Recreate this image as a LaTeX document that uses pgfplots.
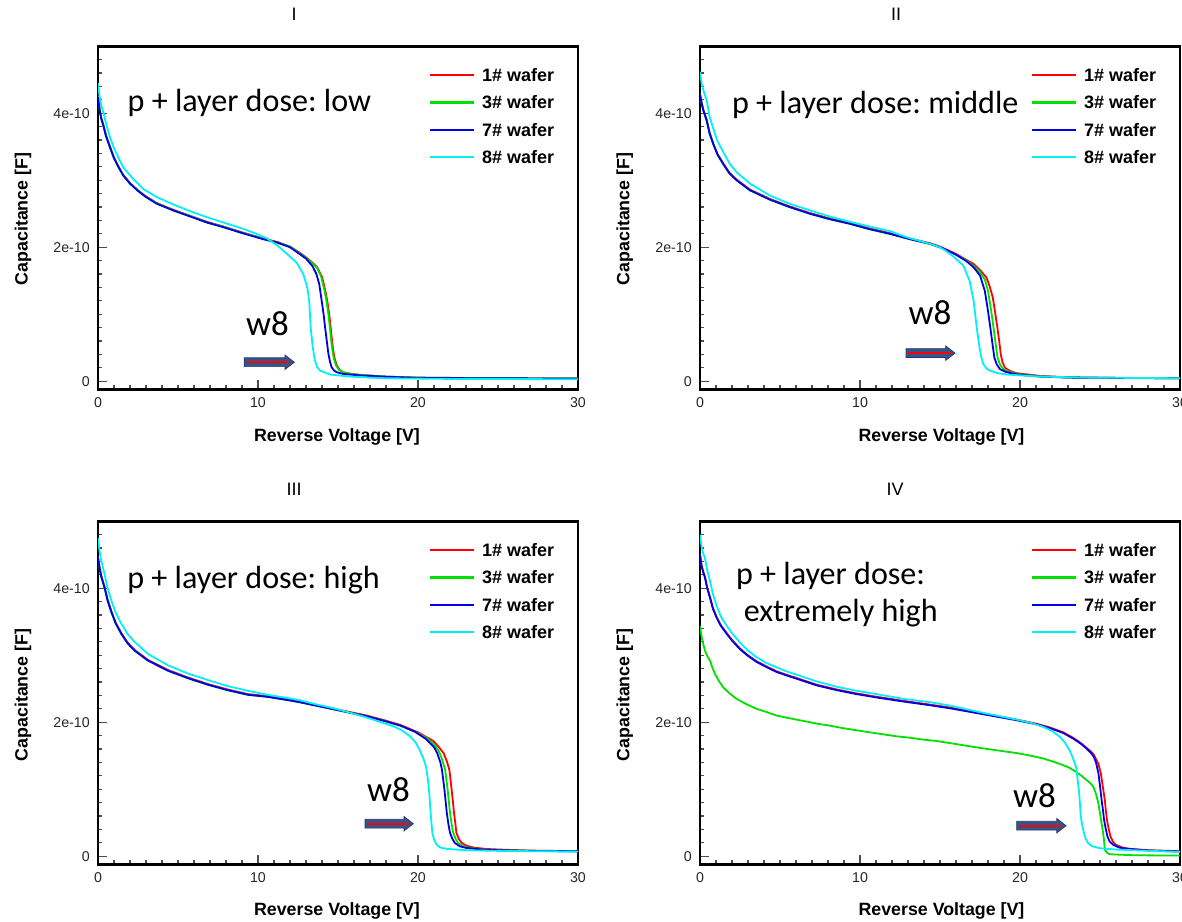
\documentclass[border=0pt]{standalone}
\usepackage{fontspec}
\setmainfont{Liberation Sans}
\newfontfamily\calibri{Carlito}
\usepackage{pgfplots}
\usepackage{pgfplotstable}
\pgfplotsset{compat=1.18}

\definecolor{cvred}{RGB}{255,0,0}
\definecolor{cvgreen}{RGB}{0,225,0}
\definecolor{cvblue}{RGB}{0,0,230}
\definecolor{cvcyan}{RGB}{0,240,245}
\definecolor{arrowblue}{RGB}{52,84,140}
\definecolor{arrowedge}{RGB}{36,58,104}

% C-V data: V = reverse voltage [V], C = capacitance in units of 1e-10 F
% ---------- I : low dose ----------
\pgfplotstableread{
V C
0.00 4.26
0.10 4.07
0.20 3.94
0.33 3.83
0.50 3.67
0.75 3.50
1.00 3.34
1.25 3.22
1.58 3.08
2.00 2.96
2.50 2.85
3.00 2.76
3.67 2.66
4.70 2.56
5.75 2.47
6.80 2.38
7.83 2.31
8.90 2.23
10.33 2.13
11.20 2.08
12.00 2.01
12.60 1.92
13.00 1.85
13.40 1.77
13.70 1.70
14.00 1.56
14.20 1.36
14.33 1.20
14.45 1.00
14.54 0.81
14.62 0.62
14.70 0.46
14.80 0.33
14.92 0.24
15.10 0.17
15.33 0.135
15.70 0.115
16.17 0.10
17.00 0.085
17.80 0.07
20.00 0.055
24.00 0.045
30.00 0.04
}\IRed
\pgfplotstableread{
V C
0.00 4.25
0.10 4.06
0.20 3.93
0.33 3.83
0.50 3.66
0.75 3.50
1.00 3.33
1.25 3.21
1.58 3.08
2.00 2.95
2.50 2.85
3.00 2.75
3.67 2.66
4.70 2.55
5.75 2.47
6.80 2.37
7.83 2.31
8.90 2.22
10.33 2.13
11.20 2.07
12.00 2.01
12.60 1.91
13.00 1.84
13.40 1.76
13.70 1.69
13.95 1.56
14.15 1.36
14.28 1.20
14.40 1.00
14.49 0.81
14.57 0.62
14.65 0.46
14.75 0.33
14.87 0.24
15.05 0.17
15.30 0.135
15.70 0.115
16.17 0.10
17.00 0.085
17.80 0.07
20.00 0.055
24.00 0.045
30.00 0.04
}\IGreen
\pgfplotstableread{
V C
0.00 4.24
0.10 4.05
0.20 3.92
0.33 3.82
0.50 3.66
0.75 3.49
1.00 3.33
1.25 3.21
1.58 3.07
2.00 2.95
2.50 2.84
3.00 2.75
3.67 2.65
4.70 2.55
5.75 2.46
6.80 2.37
7.83 2.30
8.90 2.22
10.33 2.12
11.20 2.07
12.00 2.00
12.60 1.90
13.00 1.83
13.40 1.72
13.65 1.60
13.83 1.45
13.98 1.20
14.10 1.00
14.19 0.81
14.30 0.60
14.40 0.41
14.50 0.29
14.60 0.21
14.75 0.16
14.92 0.135
15.30 0.11
15.75 0.10
16.50 0.085
17.80 0.07
19.90 0.05
24.00 0.045
30.00 0.04
}\IBlue
\pgfplotstableread{
V C
0.00 4.45
0.10 4.25
0.20 4.12
0.33 4.02
0.50 3.85
0.75 3.64
1.00 3.48
1.17 3.39
1.58 3.19
2.20 3.02
2.83 2.87
3.67 2.75
4.70 2.64
5.75 2.54
6.80 2.45
7.83 2.37
8.90 2.29
9.80 2.21
10.50 2.14
11.20 2.03
11.58 1.95
12.00 1.86
12.42 1.77
12.83 1.60
13.08 1.40
13.20 1.20
13.29 0.81
13.42 0.51
13.56 0.31
13.70 0.21
13.875 0.16
14.50 0.10
15.75 0.07
17.80 0.045
22.00 0.035
30.00 0.03
}\ICyan

% ---------- II : middle dose ----------
\pgfplotstableread{
V C
0.00 4.29
0.10 4.16
0.20 4.06
0.42 3.90
0.60 3.71
0.83 3.55
1.10 3.39
1.46 3.25
1.85 3.11
2.29 3.01
3.13 2.86
4.38 2.72
5.60 2.61
6.88 2.51
8.10 2.43
9.38 2.36
10.60 2.28
11.88 2.21
13.13 2.13
14.38 2.06
15.00 2.01
16.00 1.90
17.10 1.75
17.50 1.66
17.90 1.55
18.10 1.42
18.30 1.25
18.45 1.02
18.58 0.81
18.70 0.60
18.80 0.40
18.90 0.29
19.06 0.20
19.40 0.15
19.80 0.12
20.50 0.10
21.25 0.08
23.00 0.06
26.00 0.05
30.00 0.045
}\IIRed
\pgfplotstableread{
V C
0.00 4.28
0.10 4.15
0.20 4.05
0.42 3.89
0.60 3.70
0.83 3.54
1.10 3.38
1.46 3.24
1.85 3.10
2.29 3.00
3.13 2.85
4.38 2.71
5.60 2.60
6.88 2.50
8.10 2.42
9.38 2.35
10.60 2.27
11.88 2.20
13.13 2.12
14.38 2.05
15.00 2.00
16.00 1.89
16.67 1.80
17.10 1.72
17.50 1.63
17.80 1.52
18.00 1.35
18.20 1.05
18.30 0.88
18.40 0.70
18.50 0.52
18.60 0.35
18.75 0.25
18.95 0.18
19.30 0.14
19.80 0.11
20.40 0.09
21.25 0.075
23.00 0.055
26.00 0.05
30.00 0.045
}\IIGreen
\pgfplotstableread{
V C
0.00 4.28
0.10 4.15
0.20 4.05
0.42 3.89
0.60 3.70
0.83 3.54
1.10 3.38
1.46 3.24
1.85 3.10
2.29 3.00
3.13 2.85
4.38 2.71
5.60 2.60
6.88 2.50
8.10 2.42
9.38 2.35
10.60 2.27
11.88 2.20
13.13 2.12
14.38 2.05
15.00 2.00
15.40 1.96
16.00 1.89
16.67 1.79
17.10 1.70
17.50 1.58
17.80 1.35
18.00 1.05
18.10 0.88
18.20 0.70
18.30 0.52
18.40 0.35
18.55 0.25
18.75 0.18
19.10 0.14
19.60 0.11
20.30 0.09
21.25 0.07
23.00 0.055
26.00 0.05
30.00 0.045
}\IIBlue
\pgfplotstableread{
V C
0.00 4.62
0.10 4.45
0.20 4.35
0.42 4.19
0.60 3.95
0.83 3.77
1.10 3.58
1.46 3.42
1.85 3.25
2.29 3.12
3.13 2.95
4.38 2.77
5.60 2.65
6.88 2.55
8.10 2.46
9.38 2.38
10.60 2.31
11.88 2.24
12.90 2.15
13.50 2.11
14.38 2.05
15.00 2.00
15.40 1.94
15.80 1.87
16.45 1.73
16.85 1.50
17.10 1.20
17.20 1.00
17.29 0.81
17.40 0.62
17.50 0.46
17.60 0.34
17.70 0.26
17.90 0.19
18.10 0.16
18.60 0.12
19.20 0.10
21.25 0.07
24.00 0.055
30.00 0.045
}\IICyan

% ---------- III : high dose ----------
\pgfplotstableread{
V C
0.00 4.46
0.10 4.31
0.20 4.19
0.42 4.01
0.60 3.83
0.83 3.66
1.10 3.49
1.46 3.33
1.85 3.19
2.29 3.08
3.13 2.93
4.38 2.78
5.60 2.67
6.88 2.57
8.10 2.49
9.38 2.42
10.60 2.39
11.90 2.34
12.60 2.31
14.00 2.24
15.40 2.17
16.80 2.10
17.90 2.03
18.90 1.96
20.00 1.85
20.96 1.72
21.30 1.63
21.60 1.54
21.80 1.42
21.96 1.29
22.03 1.15
22.10 1.00
22.18 0.82
22.25 0.65
22.33 0.50
22.40 0.35
22.55 0.26
22.73 0.20
23.00 0.16
23.46 0.13
24.20 0.11
25.10 0.10
27.00 0.085
30.00 0.075
}\IIIRed
\pgfplotstableread{
V C
0.00 4.45
0.10 4.30
0.20 4.18
0.42 4.00
0.60 3.82
0.83 3.65
1.10 3.48
1.46 3.32
1.85 3.18
2.29 3.07
3.13 2.92
4.38 2.77
5.60 2.66
6.88 2.56
8.10 2.48
9.38 2.41
10.60 2.38
11.90 2.33
12.60 2.30
14.00 2.23
15.40 2.16
16.80 2.09
17.90 2.02
18.90 1.95
19.80 1.86
20.50 1.77
21.00 1.67
21.30 1.57
21.50 1.45
21.70 1.29
21.85 1.00
22.00 0.65
22.10 0.48
22.20 0.35
22.35 0.26
22.50 0.20
22.80 0.15
23.20 0.125
24.00 0.10
25.10 0.09
27.00 0.08
30.00 0.075
}\IIIGreen
\pgfplotstableread{
V C
0.00 4.45
0.10 4.30
0.20 4.18
0.42 4.00
0.60 3.82
0.83 3.65
1.10 3.48
1.46 3.32
1.85 3.18
2.29 3.07
3.13 2.92
4.38 2.77
5.60 2.66
6.88 2.56
8.10 2.48
9.38 2.41
10.60 2.38
11.90 2.33
12.60 2.30
14.00 2.23
15.40 2.16
16.80 2.09
17.90 2.02
18.90 1.95
19.80 1.86
20.50 1.75
21.00 1.63
21.20 1.54
21.40 1.40
21.50 1.29
21.65 1.00
21.80 0.65
21.90 0.48
22.00 0.35
22.15 0.26
22.30 0.20
22.60 0.15
23.00 0.125
24.00 0.10
25.10 0.09
27.00 0.08
30.00 0.075
}\IIIBlue
\pgfplotstableread{
V C
0.00 4.75
0.10 4.55
0.20 4.42
0.42 4.20
0.60 4.00
0.83 3.82
1.10 3.64
1.46 3.47
1.85 3.32
2.29 3.20
3.13 3.02
4.38 2.85
5.60 2.73
6.88 2.63
8.10 2.54
9.38 2.47
10.60 2.41
11.90 2.36
12.60 2.33
13.60 2.27
14.70 2.21
15.80 2.14
16.80 2.07
17.70 2.00
18.46 1.94
19.00 1.88
19.50 1.79
19.85 1.70
20.10 1.59
20.35 1.45
20.50 1.34
20.60 1.18
20.67 1.04
20.73 0.85
20.79 0.65
20.84 0.50
20.90 0.35
21.00 0.25
21.17 0.17
21.40 0.13
21.80 0.11
23.00 0.09
25.10 0.08
30.00 0.07
}\IIICyan

% ---------- IV : extremely high dose ----------
\pgfplotstableread{
V C
0.00 4.51
0.10 4.34
0.20 4.25
0.31 4.17
0.45 4.01
0.625 3.87
0.80 3.71
1.04 3.57
1.30 3.45
1.67 3.33
2.00 3.23
2.50 3.10
3.00 3.00
3.54 2.91
4.10 2.84
4.79 2.76
5.40 2.71
6.04 2.66
7.30 2.56
8.54 2.49
9.79 2.43
11.04 2.38
12.70 2.32
14.20 2.27
15.60 2.22
17.70 2.13
19.80 2.04
21.00 1.98
21.90 1.92
22.70 1.85
23.30 1.77
23.80 1.69
24.15 1.62
24.40 1.57
24.60 1.52
24.90 1.38
25.05 1.24
25.20 1.00
25.30 0.84
25.38 0.65
25.45 0.52
25.55 0.40
25.65 0.30
25.80 0.22
26.00 0.17
26.40 0.13
26.90 0.11
28.10 0.09
30.00 0.075
}\IVRed
\pgfplotstableread{
V C
0.00 3.44
0.10 3.28
0.20 3.17
0.31 3.07
0.45 2.99
0.625 2.92
0.80 2.80
0.94 2.72
1.20 2.61
1.46 2.52
1.85 2.43
2.29 2.35
2.90 2.27
3.54 2.20
4.20 2.15
4.79 2.10
5.60 2.06
6.46 2.02
7.30 1.98
8.10 1.95
9.00 1.91
9.80 1.88
10.60 1.85
11.46 1.82
12.30 1.79
13.10 1.77
14.00 1.74
14.80 1.72
15.60 1.69
17.70 1.61
19.80 1.54
20.70 1.50
21.46 1.46
22.10 1.41
22.70 1.36
23.10 1.32
23.50 1.26
23.85 1.20
24.15 1.14
24.40 1.09
24.60 1.03
24.75 0.93
24.90 0.79
25.00 0.64
25.10 0.49
25.18 0.37
25.25 0.25
25.28 0.15
25.32 0.09
25.45 0.05
25.60 0.03
27.10 0.015
30.00 0.01
}\IVGreen
\pgfplotstableread{
V C
0.00 4.50
0.10 4.33
0.20 4.24
0.31 4.16
0.45 4.00
0.625 3.86
0.80 3.70
1.04 3.56
1.30 3.44
1.67 3.32
2.00 3.22
2.50 3.09
3.00 2.99
3.54 2.90
4.10 2.83
4.79 2.75
5.40 2.70
6.04 2.65
7.30 2.55
8.54 2.48
9.79 2.42
11.04 2.37
12.70 2.31
14.20 2.26
15.60 2.21
17.70 2.12
19.80 2.03
21.00 1.97
21.90 1.91
22.70 1.84
23.30 1.76
23.80 1.68
24.15 1.61
24.40 1.55
24.60 1.49
24.75 1.40
24.90 1.24
25.00 1.05
25.10 0.84
25.18 0.70
25.25 0.55
25.35 0.42
25.46 0.30
25.60 0.22
25.83 0.17
26.20 0.13
26.70 0.11
28.10 0.085
30.00 0.07
}\IVBlue
\pgfplotstableread{
V C
0.00 4.80
0.10 4.62
0.20 4.52
0.31 4.45
0.45 4.27
0.625 4.11
0.80 3.92
1.04 3.74
1.30 3.58
1.67 3.44
2.00 3.33
2.50 3.19
3.00 3.07
3.54 2.97
4.10 2.89
4.79 2.82
5.40 2.76
6.04 2.71
7.30 2.61
8.54 2.53
9.79 2.47
11.04 2.42
12.70 2.35
14.40 2.30
15.60 2.25
17.70 2.14
19.80 2.04
20.70 1.99
21.46 1.93
22.00 1.87
22.50 1.78
22.80 1.70
23.10 1.58
23.30 1.47
23.50 1.34
23.60 1.15
23.70 0.94
23.75 0.77
23.80 0.59
23.90 0.45
24.00 0.35
24.10 0.26
24.25 0.20
24.50 0.15
25.00 0.12
26.00 0.10
27.08 0.09
30.00 0.065
}\IVCyan

\pgfplotsset{
  cvpanel/.style={
    scale only axis, width=240pt, height=171.5pt,
    anchor=south west,
    xmin=0, xmax=30, ymin=-0.12, ymax=5.0,
    xtick={0,10,20,30}, xticklabels={0,10,20,30},
    minor xtick={1,...,29},
    ytick={0,2,4}, yticklabels={0,2e-10,4e-10},
    minor ytick={0.2,0.4,...,4.8},
    tick align=inside, tick pos=left,
    major tick length=4.5pt, minor tick length=2pt,
    tick style={black!70, line width=0.6pt},
    axis line style={line width=1.3pt},
    tick label style={font=\fontsize{7.1}{8}\selectfont, text=black!85},
    xticklabel style={yshift=-0.6pt},
    yticklabel style={xshift=-0.6pt},
    every axis plot/.append style={line width=0.9pt, no marks},
    legend style={draw=none, fill=none, at={(0.69,0.935)}, anchor=north west,
      inner sep=0pt, outer sep=0pt, row sep=7.2pt, column sep=3.65pt,
      font=\fontsize{9}{10}\selectfont\bfseries,
      nodes={inner sep=0pt, text height=6.5pt, text depth=0pt}},
    legend cell align=left,
    legend image code/.code={\draw[#1, line width=1.1pt] (0pt,0pt) -- (21.7pt,0pt);},
  },
}

% block arrow pointing at the shifted 8# curve: start, tip, height
\newcommand\wArrow[3]{%
  \filldraw[fill=arrowblue, draw=arrowedge, line width=0.35pt]
    ([yshift=-2.2pt]axis cs:#1,#3) -- ([xshift=-4.65pt,yshift=-2.2pt]axis cs:#2,#3)
    -- ([xshift=-4.65pt,yshift=-3.6pt]axis cs:#2,#3) -- (axis cs:#2,#3)
    -- ([xshift=-4.65pt,yshift=3.6pt]axis cs:#2,#3) -- ([xshift=-4.65pt,yshift=2.2pt]axis cs:#2,#3)
    -- ([yshift=2.2pt]axis cs:#1,#3) -- cycle;
  \draw[cvred, line width=1.15pt] ([xshift=1.2pt]axis cs:#1,#3) -- ([xshift=-2.2pt]axis cs:#2,#3);
}
\newcommand\doseFont{\calibri\fontsize{16.05}{19}\selectfont\frenchspacing}
\newcommand\weFont{\calibri\fontsize{17.5}{20}\selectfont}
\tikzset{dose/.style={anchor=base west, inner sep=0pt, font=\doseFont}}

\begin{document}
\begin{tikzpicture}[x=1pt,y=1pt]
\path[use as bounding box] (0,0) rectangle (591,460.5);

% ---------------- I ----------------
\begin{axis}[cvpanel, at={(49pt,265.85pt)}]
\addplot[cvred] table[x=V,y=C] {\IRed};
\addplot[cvgreen] table[x=V,y=C] {\IGreen};
\addplot[cvblue] table[x=V,y=C] {\IBlue};
\addplot[cvcyan] table[x=V,y=C] {\ICyan};
\legend{1\# wafer, 3\# wafer, 7\# wafer, 8\# wafer}
\node[dose] at (axis cs:1.83,4.025) {p + layer dose: low};
\node[font=\weFont] at (axis cs:10.6,0.86) {w8};
\wArrow{9.14}{12.27}{0.284}
\end{axis}

% ---------------- II ----------------
\begin{axis}[cvpanel, at={(350pt,265.85pt)}]
\addplot[cvred] table[x=V,y=C] {\IIRed};
\addplot[cvgreen] table[x=V,y=C] {\IIGreen};
\addplot[cvblue] table[x=V,y=C] {\IIBlue};
\addplot[cvcyan] table[x=V,y=C] {\IICyan};
\legend{1\# wafer, 3\# wafer, 7\# wafer, 8\# wafer}
\node[dose] at (axis cs:1.98,4.0) {p + layer dose: middle};
\node[font=\weFont] at (axis cs:14.375,1.03) {w8};
\wArrow{12.875}{15.94}{0.42}
\end{axis}

% ---------------- III ----------------
\begin{axis}[cvpanel, at={(49pt,28.35pt)}]
\addplot[cvred] table[x=V,y=C] {\IIIRed};
\addplot[cvgreen] table[x=V,y=C] {\IIIGreen};
\addplot[cvblue] table[x=V,y=C] {\IIIBlue};
\addplot[cvcyan] table[x=V,y=C] {\IIICyan};
\legend{1\# wafer, 3\# wafer, 7\# wafer, 8\# wafer}
\node[dose] at (axis cs:1.81,4.0) {p + layer dose: high};
\node[font=\weFont] at (axis cs:18.15,1.0) {w8};
\wArrow{16.69}{19.71}{0.486}
\end{axis}

% ---------------- IV ----------------
\begin{axis}[cvpanel, at={(350pt,28.35pt)}]
\addplot[cvred] table[x=V,y=C] {\IVRed};
\addplot[cvgreen] table[x=V,y=C] {\IVGreen};
\addplot[cvblue] table[x=V,y=C] {\IVBlue};
\addplot[cvcyan] table[x=V,y=C] {\IVCyan};
\legend{1\# wafer, 3\# wafer, 7\# wafer, 8\# wafer}
\node[dose] at (axis cs:2.23,4.06) {p + layer dose:};
\node[dose] at (axis cs:2.71,3.51) {extremely high};
\node[font=\weFont] at (axis cs:20.9,0.9) {w8};
\wArrow{19.79}{22.88}{0.456}
\end{axis}

% panel titles and axis titles
\begin{scope}[every node/.style={font=\fontsize{9}{10}\selectfont}]
\node at (147,453.5) {I};
\node at (448,453.5) {II};
\node at (147,216) {III};
\node at (447.5,216) {IV};
\end{scope}
\begin{scope}[every node/.style={font=\fontsize{8.9}{10}\selectfont\bfseries}]
\node at (168.5,242) {Reverse Voltage [V]};
\node at (470.75,242) {Reverse Voltage [V]};
\node at (168.5,5) {Reverse Voltage [V]};
\node at (470.75,5) {Reverse Voltage [V]};
\node[rotate=90] at (11.5,351) {Capacitance [F]};
\node[rotate=90] at (312.35,351) {Capacitance [F]};
\node[rotate=90] at (11.5,113) {Capacitance [F]};
\node[rotate=90] at (312.35,113) {Capacitance [F]};
\end{scope}
\end{tikzpicture}
\end{document}
